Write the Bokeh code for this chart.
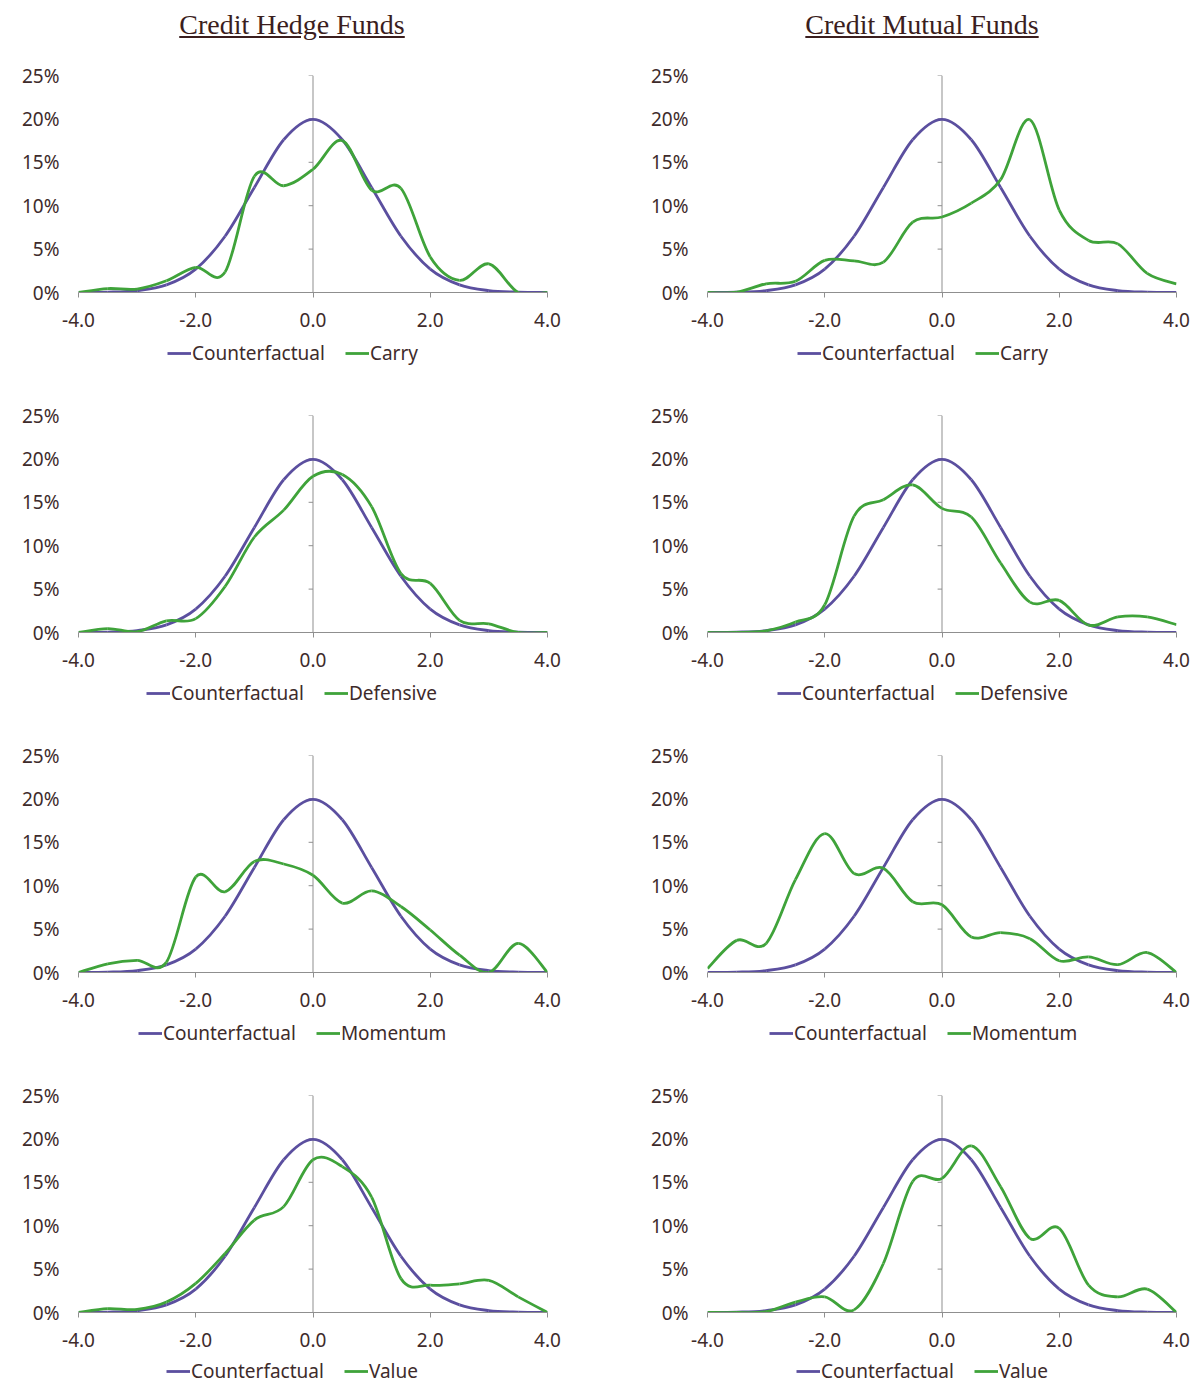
from bokeh.plotting import figure
from bokeh.models import (Span, Legend, LegendItem, NumeralTickFormatter,
                          FixedTicker, Range1d, Div)
from bokeh.layouts import column, row
from bokeh.embed import file_html
from bokeh.resources import INLINE

# ---------------- data ----------------
x_points = [-4.0, -3.5, -3.0, -2.5, -2.0, -1.5, -1.0, -0.5, 0.0,
            0.5, 1.0, 1.5, 2.0, 2.5, 3.0, 3.5, 4.0]

counterfactual = [0.0001, 0.0004, 0.0022, 0.0088, 0.0270, 0.0648, 0.1210, 0.1760, 0.1995,
                  0.1760, 0.1210, 0.0648, 0.0270, 0.0088, 0.0022, 0.0004, 0.0001]

hf_carry = [0.000, 0.0045, 0.004, 0.0135, 0.029, 0.0235, 0.134, 0.123, 0.142,
            0.175, 0.118, 0.120, 0.041, 0.014, 0.033, 0.000, 0.000]
mf_carry = [0.000, 0.0005, 0.010, 0.013, 0.037, 0.0365, 0.035, 0.081, 0.087,
            0.103, 0.130, 0.199, 0.095, 0.060, 0.056, 0.022, 0.010]

hf_defensive = [0.000, 0.0045, 0.001, 0.0135, 0.016, 0.053, 0.110, 0.141, 0.180,
                0.182, 0.145, 0.068, 0.0565, 0.014, 0.010, 0.000, 0.000]
mf_defensive = [0.000, 0.000, 0.002, 0.012, 0.032, 0.134, 0.153, 0.170, 0.143,
                0.133, 0.080, 0.035, 0.037, 0.0085, 0.018, 0.018, 0.009]

hf_momentum = [0.000, 0.010, 0.014, 0.012, 0.110, 0.093, 0.128, 0.125, 0.112,
               0.080, 0.094, 0.076, 0.049, 0.020, 0.000, 0.0335, 0.000]
mf_momentum = [0.0045, 0.037, 0.0335, 0.107, 0.160, 0.114, 0.120, 0.0815, 0.078,
               0.041, 0.046, 0.039, 0.0135, 0.018, 0.009, 0.023, 0.000]

hf_value = [0.000, 0.0045, 0.0035, 0.012, 0.0335, 0.068, 0.1065, 0.122, 0.176,
            0.168, 0.133, 0.039, 0.0315, 0.033, 0.037, 0.018, 0.000]
mf_value = [0.000, 0.000, 0.001, 0.012, 0.018, 0.003, 0.0565, 0.151, 0.1545,
            0.192, 0.145, 0.0855, 0.097, 0.0315, 0.018, 0.027, 0.000]

column_titles = ["Credit Hedge Funds", "Credit Mutual Funds"]
factor_names = ["Carry", "Defensive", "Momentum", "Value"]
hf_series = [hf_carry, hf_defensive, hf_momentum, hf_value]
mf_series = [mf_carry, mf_defensive, mf_momentum, mf_value]

x_ticks = [-4.0, -2.0, 0.0, 2.0, 4.0]
y_ticks = [0.0, 0.05, 0.10, 0.15, 0.20, 0.25]

# ---------------- style ----------------
PURPLE = "#5b4f9f"
GREEN = "#3fa33a"
TEXT = "#3e2b2b"
AXIS = "#8f8f8f"
FONT = "Noto Sans"
FS = "19px"
LW = 2.8

# rendered label widths (px) used to centre each legend under its chart
LABEL_W = {"Counterfactual": 133, "Carry": 47, "Defensive": 88, "Momentum": 104, "Value": 49}
GLYPH_W = 24
STANDOFF = 1
SPACING = 20


def smooth_parts(xs, ys):
    """Excel-like smoothed line: cubic Bezier segments through the data points."""
    n = len(xs)
    px = [xs[0]] + list(xs) + [xs[-1]]
    py = [ys[0]] + list(ys) + [ys[-1]]
    d = dict(x0=[], y0=[], x1=[], y1=[], cx0=[], cy0=[], cx1=[], cy1=[])
    for i in range(n - 1):
        a, b, c, e = i, i + 1, i + 2, i + 3
        d["x0"].append(px[b]); d["y0"].append(py[b])
        d["x1"].append(px[c]); d["y1"].append(py[c])
        d["cx0"].append(px[b] + (px[c] - px[a]) / 6.0)
        d["cy0"].append(py[b] + (py[c] - py[a]) / 6.0)
        d["cx1"].append(px[c] - (px[e] - px[b]) / 6.0)
        d["cy1"].append(py[c] - (py[e] - py[b]) / 6.0)
    return d


FRAME_W = 469
FRAME_H = 217
COL_W = [598, 599]
COL_LEFT = [78, 109]
COL_X0 = [0, 598]            # page x of each column
LEG_CENTRE = [292, 922]      # page x of legend / title centres


def make_chart(values, col):
    width = COL_W[col]
    left = COL_LEFT[col]
    right = width - left - FRAME_W
    top = 20
    bottom = 45
    p = figure(width=width, height=top + FRAME_H + bottom, output_backend="svg",
               toolbar_location=None,
               x_range=Range1d(-4, 4), y_range=Range1d(0, 0.25),
               min_border_left=left, min_border_right=right,
               min_border_top=top, min_border_bottom=bottom)
    p.outline_line_color = None
    p.grid.visible = False

    xa = p.xaxis[0]
    xa.ticker = FixedTicker(ticks=x_ticks)
    xa.formatter = NumeralTickFormatter(format="0.0")
    xa.axis_line_color = AXIS
    xa.major_tick_line_color = AXIS
    xa.major_tick_out = 5
    xa.major_tick_in = 0
    xa.minor_tick_line_color = None
    xa.major_label_text_font = FONT
    xa.major_label_text_font_size = FS
    xa.major_label_text_color = TEXT
    xa.major_label_standoff = 15

    ya = p.yaxis[0]
    ya.ticker = FixedTicker(ticks=y_ticks)
    ya.formatter = NumeralTickFormatter(format="0%")
    ya.axis_line_color = None
    ya.major_tick_line_color = None
    ya.minor_tick_line_color = None
    ya.major_tick_out = 0
    ya.major_tick_in = 0
    ya.major_label_text_font = FONT
    ya.major_label_text_font_size = FS
    ya.major_label_text_color = TEXT
    ya.major_label_standoff = 19

    # vertical axis crossing at x = 0 with small ticks to its left
    p.add_layout(Span(location=0, dimension="height", line_color=AXIS, line_width=1,
                      level="underlay"))
    tick_len = 0.075
    p.segment(x0=[-tick_len] * (len(y_ticks) - 1), x1=[0.0] * (len(y_ticks) - 1),
              y0=y_ticks[1:], y1=y_ticks[1:], line_color=AXIS, line_width=1)

    p.bezier(**smooth_parts(x_points, counterfactual), line_color=PURPLE, line_width=LW)
    p.bezier(**smooth_parts(x_points, values), line_color=GREEN, line_width=LW)
    return p


def make_legend(values, name, col, last):
    width = COL_W[col]
    left = COL_LEFT[col]
    right = width - left - FRAME_W
    height = 28 if last else 58
    fh = 28 if last else 32
    # the legend strip shows the same series, far outside its visible y range,
    # so that only the legend entries are seen
    q = figure(width=width, height=height, output_backend="svg", toolbar_location=None,
               x_axis_type=None, y_axis_type=None,
               x_range=Range1d(-4, 4), y_range=Range1d(5, 6),
               min_border_left=left, min_border_right=right,
               min_border_top=0, min_border_bottom=height - fh)
    q.outline_line_color = None
    q.grid.visible = False
    r1 = q.line(x=x_points, y=counterfactual, line_color=PURPLE, line_width=LW)
    r2 = q.line(x=x_points, y=values, line_color=GREEN, line_width=LW)
    total = (GLYPH_W + STANDOFF + LABEL_W["Counterfactual"]) + SPACING + \
            (GLYPH_W + STANDOFF + LABEL_W[name])
    x_off = int(round(LEG_CENTRE[col] - total / 2.0 - (COL_X0[col] + left)))
    legend = Legend(items=[LegendItem(label="Counterfactual", renderers=[r1]),
                           LegendItem(label=name, renderers=[r2])],
                    orientation="horizontal", location=(x_off, int((fh - 26) / 2)),
                    glyph_width=GLYPH_W, glyph_height=20, label_standoff=STANDOFF,
                    spacing=SPACING, padding=0, margin=0,
                    label_text_font=FONT, label_text_font_size=FS,
                    label_text_color=TEXT, border_line_color=None,
                    background_fill_alpha=0)
    q.add_layout(legend, "center")
    return q


def title_div(text, col):
    w = COL_W[col]
    pad = "padding-right:14px;" if col == 0 else "padding-left:49px;"
    html = ("<div style=\"width:%dpx;box-sizing:border-box;%s text-align:center;"
            "font-family:'Liberation Serif','Times New Roman',serif;font-size:28px;"
            "line-height:34px;padding-top:8px;color:#3b1e1e;text-decoration:underline;\">%s</div>"
            % (w, pad, text))
    return Div(text=html, width=w, height=55, margin=0)


rows = [row(title_div(column_titles[0], 0), title_div(column_titles[1], 1), spacing=0)]
for i, name in enumerate(factor_names):
    last = i == len(factor_names) - 1
    rows.append(row(column(make_chart(hf_series[i], 0),
                           make_legend(hf_series[i], name, 0, last), spacing=0),
                    column(make_chart(mf_series[i], 1),
                           make_legend(mf_series[i], name, 1, last), spacing=0),
                    spacing=0))

layout = column(*rows, spacing=0)
open("out.html", "w").write(file_html(layout, INLINE))
